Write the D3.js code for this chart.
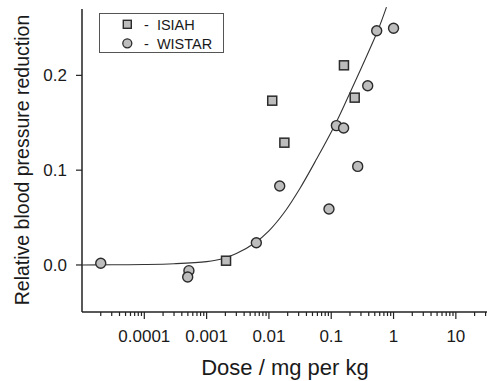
<!DOCTYPE html>
<html>
<head>
<meta charset="utf-8">
<script src="https://cdn.jsdelivr.net/npm/d3@7/dist/d3.min.js"></script>
<style>
  html, body { margin: 0; padding: 0; background: #fff; }
  svg { display: block; font-family: "Liberation Sans", Arial, sans-serif; }
</style>
</head>
<body>
<svg id="chart" width="487" height="381"></svg>
<script>
// ISIAH rats (squares): dose in mg/kg, relative reduction
const isiahDose  = [0.00205, 0.0113, 0.0177, 0.16, 0.238];
const isiahValue = [0.0045, 0.1733, 0.129, 0.2106, 0.1765];

// WISTAR rats (circles)
const wistarDose  = [2e-5, 0.00052, 0.000497, 0.00628, 0.0149, 0.092, 0.121, 0.158, 0.266, 0.385, 0.537, 1.0];
const wistarValue = [0.0018, -0.006, -0.0127, 0.0235, 0.0833, 0.059, 0.147, 0.1445, 0.104, 0.189, 0.247, 0.2497];

// fitted curve
const curveDose  = [1e-5, 3e-5, 1e-4, 3e-4, 1e-3, 1.8e-3, 3e-3, 6e-3, 0.01, 0.017, 0.0316, 0.0585, 0.115, 0.177, 0.3, 0.557, 0.77];
const curveValue = [0.0, 0.0002, 0.0005, 0.0013, 0.0035, 0.0065, 0.012, 0.0235, 0.036, 0.054, 0.081, 0.112, 0.148, 0.174, 0.207, 0.247, 0.272];

const xTickValues = [1e-4, 1e-3, 1e-2, 1e-1, 1, 10];
const xTickLabels = ['0.0001', '0.001', '0.01', '0.1', '1', '10'];
const yTickValues = [0.0, 0.1, 0.2];
const yTickLabels = ['0.0', '0.1', '0.2'];

const legendLabels = ['-  ISIAH', '-  WISTAR'];

const svg = d3.select('#chart');
const mLeft = 82, mRight = 487, mTop = 9, mBottom = 312;

const x = d3.scaleLog().domain([1e-5, Math.pow(10, 1.5)]).range([mLeft, mRight]);
const y = d3.scaleLinear().domain([-0.0496, 0.2700]).range([mBottom, mTop]);

const ink = '#222';

// minor ticks on the log axis (2..9 of every decade)
const minor = [];
for (let e = -5; e <= 1; e++) {
  for (let m = 2; m <= 9; m++) {
    const v = m * Math.pow(10, e);
    if (v < x.domain()[1]) minor.push(v);
  }
}

const gx = svg.append('g').attr('transform', `translate(0,${mBottom})`);
gx.append('line').attr('x1', mLeft).attr('x2', mRight + 2).attr('stroke', ink).attr('stroke-width', 1.5);
gx.selectAll('line.minor').data(minor).join('line')
  .attr('class', 'minor')
  .attr('x1', d => x(d)).attr('x2', d => x(d))
  .attr('y1', 0).attr('y2', 4)
  .attr('stroke', ink).attr('stroke-width', 1.2);
gx.selectAll('line.major').data(xTickValues).join('line')
  .attr('class', 'major')
  .attr('x1', d => x(d)).attr('x2', d => x(d))
  .attr('y1', 0).attr('y2', 7)
  .attr('stroke', ink).attr('stroke-width', 1.2);
gx.selectAll('text').data(xTickValues).join('text')
  .attr('x', d => x(d)).attr('y', 30)
  .attr('text-anchor', 'middle')
  .attr('font-size', '17px').attr('fill', '#1a1a1a')
  .text((d, i) => xTickLabels[i]);

const gy = svg.append('g').attr('transform', `translate(${mLeft},0)`);
gy.append('line').attr('y1', mTop).attr('y2', mBottom).attr('stroke', ink).attr('stroke-width', 1.5);
gy.selectAll('line.tick').data(yTickValues).join('line')
  .attr('class', 'tick')
  .attr('x1', -6).attr('x2', 0)
  .attr('y1', d => y(d)).attr('y2', d => y(d))
  .attr('stroke', ink).attr('stroke-width', 1.2);
gy.selectAll('text').data(yTickValues).join('text')
  .attr('x', -15).attr('y', d => y(d)).attr('dy', '0.35em')
  .attr('text-anchor', 'end')
  .attr('font-size', '17px').attr('fill', '#1a1a1a')
  .text((d, i) => yTickLabels[i]);

// axis titles
svg.append('text')
  .attr('x', 285).attr('y', 375)
  .attr('text-anchor', 'middle')
  .attr('font-size', '22px').attr('fill', '#1a1a1a')
  .text('Dose / mg per kg');

svg.append('text')
  .attr('transform', 'translate(29,160) rotate(-90)')
  .attr('text-anchor', 'middle')
  .attr('font-size', '19.5px').attr('fill', '#1a1a1a')
  .text('Relative blood pressure reduction');

// fitted curve
const curvePts = curveDose.map((d, i) => [d, curveValue[i]]);
svg.append('path')
  .datum(curvePts)
  .attr('fill', 'none')
  .attr('stroke', '#333')
  .attr('stroke-width', 1.1)
  .attr('d', d3.line().x(d => x(d[0])).y(d => y(d[1])).curve(d3.curveCatmullRom.alpha(0.5)));

const markFill = '#bdbdbd', markStroke = '#2b2b2b';

// WISTAR circles
svg.append('g').selectAll('circle')
  .data(wistarDose.map((d, i) => [d, wistarValue[i]]))
  .join('circle')
  .attr('cx', d => x(d[0])).attr('cy', d => y(d[1]))
  .attr('r', 5)
  .attr('fill', markFill).attr('stroke', markStroke).attr('stroke-width', 1.4);

// ISIAH squares
const sq = 9;
svg.append('g').selectAll('rect')
  .data(isiahDose.map((d, i) => [d, isiahValue[i]]))
  .join('rect')
  .attr('x', d => x(d[0]) - sq / 2).attr('y', d => y(d[1]) - sq / 2)
  .attr('width', sq).attr('height', sq)
  .attr('fill', markFill).attr('stroke', markStroke).attr('stroke-width', 1.5);

// legend
const lg = svg.append('g');
lg.append('rect')
  .attr('x', 99.5).attr('y', 13.5).attr('width', 124).attr('height', 39)
  .attr('fill', '#fff').attr('stroke', '#555').attr('stroke-width', 1);
lg.append('rect')
  .attr('x', 127.3 - 4).attr('y', 24.3 - 4).attr('width', 8).attr('height', 8)
  .attr('fill', markFill).attr('stroke', markStroke).attr('stroke-width', 1.4);
lg.append('circle')
  .attr('cx', 127.3).attr('cy', 43.3).attr('r', 4.5)
  .attr('fill', markFill).attr('stroke', markStroke).attr('stroke-width', 1.3);
lg.selectAll('text').data(legendLabels).join('text')
  .attr('x', 144).attr('y', (d, i) => 29.5 + i * 19)
  .attr('font-size', '14.5px').attr('fill', '#1a1a1a')
  .style('white-space', 'pre')
  .text(d => d);
</script>
</body>
</html>
